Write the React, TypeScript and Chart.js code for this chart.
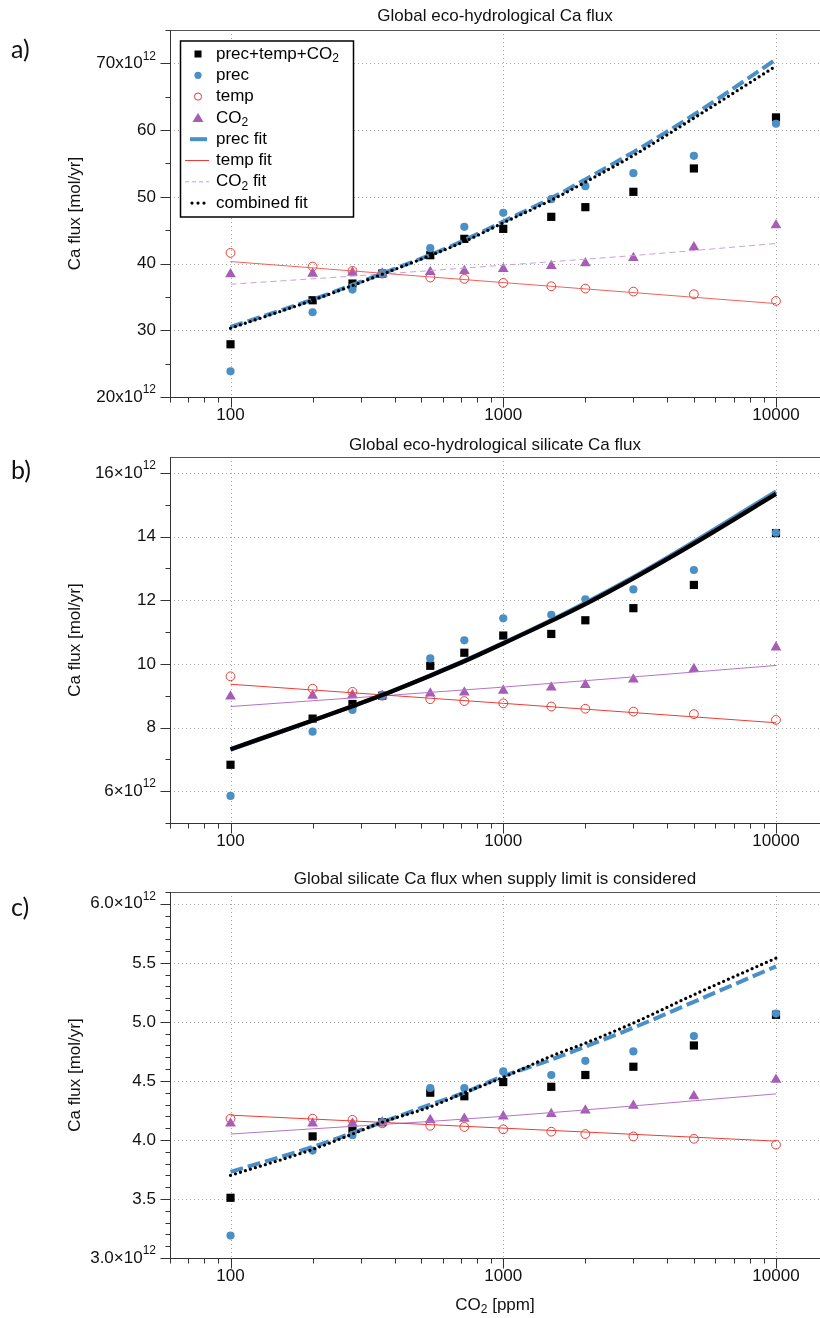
import React, { useEffect, useRef } from "react";
import { Chart, registerables } from "chart.js";

Chart.register(...registerables);

// ---------------- data (Ca flux in units of 10^12 mol/yr) ----------------
const co2 = [100, 200, 280, 360, 540, 720, 1000, 1500, 2000, 3000, 5000, 10000];
const lineEnds = [100, 1000, 10000];
const co2FitAX = [100, 300, 1000, 3000, 10000];
const xRange = [60, 14500];

// panel a
const aAll = [27.9, 34.5, 37.0, 38.5, 41.25, 43.7, 45.2, 47.0, 48.45, 50.75, 54.25, 61.9];
const aPrec = [23.85, 32.7, 36.1, 38.5, 42.3, 45.5, 47.6, 49.65, 51.6, 53.55, 56.15, 60.95];
const aTemp = [41.6, 39.55, 38.9, 38.5, 37.9, 37.7, 37.1, 36.6, 36.25, 35.8, 35.4, 34.4];
const aCO2 = [38.4, 38.5, 38.65, 38.5, 38.75, 38.9, 39.2, 39.65, 40.05, 40.85, 42.45, 45.75];
const aPrecFit = [30.5, 34.6, 36.8, 38.5, 41.3, 43.5, 46.3, 49.8, 52.6, 56.7, 62.3, 70.6];
const aCombFit = [30.3, 34.5, 36.7, 38.4, 41.2, 43.3, 46.1, 49.5, 52.2, 56.2, 61.8, 69.6];
const aTempFit = [40.3, 37.15, 34.0];
const aCO2Fit = [36.9, 38.2, 39.75, 41.2, 43.0];

// panel b
const bAll = [6.83, 8.28, 8.74, 9.0, 9.94, 10.35, 10.89, 10.94, 11.37, 11.75, 12.48, 14.11];
const bPrec = [5.85, 7.87, 8.55, 9.0, 10.17, 10.74, 11.43, 11.54, 12.03, 12.34, 12.95, 14.12];
const bTemp = [9.61, 9.22, 9.12, 9.0, 8.89, 8.83, 8.76, 8.66, 8.59, 8.5, 8.42, 8.24];
const bCO2 = [8.98, 9.0, 9.02, 9.0, 9.07, 9.1, 9.16, 9.26, 9.34, 9.51, 9.84, 10.52];
const bPrecFit = [7.3, 8.22, 8.67, 9.02, 9.64, 10.1, 10.66, 11.38, 11.92, 12.73, 13.84, 15.42];
const bCombFit = [7.32, 8.22, 8.67, 9.02, 9.63, 10.08, 10.64, 11.35, 11.88, 12.69, 13.78, 15.34];
const bTempFit = [9.36, 8.76, 8.15];
const bCO2Fit = [8.66, 9.27, 9.95];

// panel c
const cAll = [3.51, 4.03, 4.09, 4.15, 4.4, 4.37, 4.49, 4.45, 4.55, 4.62, 4.8, 5.06];
const cPrec = [3.19, 3.91, 4.04, 4.15, 4.44, 4.44, 4.58, 4.55, 4.67, 4.75, 4.88, 5.07];
const cTemp = [4.18, 4.18, 4.17, 4.14, 4.12, 4.11, 4.09, 4.07, 4.05, 4.03, 4.01, 3.96];
const cCO2 = [4.14, 4.14, 4.14, 4.15, 4.17, 4.18, 4.2, 4.22, 4.25, 4.29, 4.37, 4.51];
const cPrecFit = [3.73, 3.94, 4.06, 4.15, 4.3, 4.4, 4.54, 4.68, 4.79, 4.95, 5.17, 5.47];
const cCombFit = [3.7, 3.92, 4.05, 4.15, 4.28, 4.4, 4.53, 4.71, 4.82, 4.99, 5.23, 5.54];
const cTempFit = [4.21, 4.1, 3.99];
const cCO2Fit = [4.05, 4.2, 4.39];

// ticks & labels
const xMajor = [100, 1000, 10000];
const xLabels = ["100", "1000", "10000"];
const aYMajor = [20, 30, 40, 50, 60, 70];
const aYLabels = ["20x10^{12}", "30", "40", "50", "60", "70x10^{12}"];
const bYMajor = [6, 8, 10, 12, 14, 16];
const bYLabels = ["6×10^{12}", "8", "10", "12", "14", "16×10^{12}"];
const cYMajor = [3.0, 3.5, 4.0, 4.5, 5.0, 5.5, 6.0];
const cYLabels = ["3.0×10^{12}", "3.5", "4.0", "4.5", "5.0", "5.5", "6.0×10^{12}"];
const titles = [
  "Global eco-hydrological Ca flux",
  "Global eco-hydrological silicate Ca flux",
  "Global silicate Ca flux when supply limit is considered",
];
const panelLetters = ["a)", "b)", "c)"];
const yTitle = "Ca flux [mol/yr]";
const xTitle = "CO_{2} [ppm]";
const legendLabels = [
  "prec+temp+CO_{2}",
  "prec",
  "temp",
  "CO_{2}",
  "prec fit",
  "temp fit",
  "CO_{2} fit",
  "combined fit",
];

// ---------------- styling ----------------
const FONT = '"Liberation Sans", Arial, Helvetica, sans-serif';
const BLUE = "#4a8fc6";
const RED = "#ec3c34";
const RED_LINE_A = "#f0625a";
const PURPLE = "#a65db6";
const PURPLE_DASH = "#cc9ed8";
const PURPLE_LINE = "#b474c4";

const pts = (xs: number[], ys: number[]) => xs.map((x, i) => ({ x, y: ys[i] }));

function parseRich(s: string) {
  const parts: { t: string; k: string }[] = [];
  const re = /(\^\{[^}]*\}|_\{[^}]*\})/g;
  let last = 0;
  let m: RegExpExecArray | null;
  while ((m = re.exec(s))) {
    if (m.index > last) parts.push({ t: s.slice(last, m.index), k: "n" });
    parts.push({ t: m[0].slice(2, -1), k: m[0][0] === "^" ? "sup" : "sub" });
    last = m.index + m[0].length;
  }
  if (last < s.length) parts.push({ t: s.slice(last), k: "n" });
  return parts;
}

function drawRich(ctx: CanvasRenderingContext2D, s: string, x: number, y: number, align: string, size: number, color = "#111") {
  const parts = parseRich(s);
  const small = Math.round(size * 0.72);
  let total = 0;
  const widths = parts.map((p) => {
    ctx.font = `${p.k === "n" ? size : small}px ${FONT}`;
    const w = ctx.measureText(p.t).width;
    total += w;
    return w;
  });
  let cx = align === "left" ? x : align === "right" ? x - total : x - total / 2;
  ctx.textAlign = "left";
  ctx.textBaseline = "middle";
  ctx.fillStyle = color;
  parts.forEach((p, i) => {
    ctx.font = `${p.k === "n" ? size : small}px ${FONT}`;
    const dy = p.k === "sup" ? -size * 0.42 : p.k === "sub" ? size * 0.3 : 0;
    ctx.fillText(p.t, cx, y + dy);
    cx += widths[i];
  });
}

function drawLegend(ctx: CanvasRenderingContext2D) {
  const bx = 180.5, by = 41, bw = 173, bh = 176;
  ctx.save();
  ctx.fillStyle = "#fff";
  ctx.fillRect(bx, by, bw, bh);
  ctx.strokeStyle = "#000";
  ctx.lineWidth = 1.5;
  ctx.setLineDash([]);
  ctx.strokeRect(bx, by, bw, bh);
  const sx = 198, tx = 216, y0 = 54, dy = 21.3;
  legendLabels.forEach((lab, i) => {
    const y = y0 + i * dy;
    ctx.setLineDash([]);
    if (i === 0) {
      ctx.fillStyle = "#000";
      ctx.fillRect(sx - 3.5, y - 3.5, 7, 7);
    } else if (i === 1) {
      ctx.fillStyle = BLUE;
      ctx.beginPath();
      ctx.arc(sx, y, 3.6, 0, Math.PI * 2);
      ctx.fill();
    } else if (i === 2) {
      ctx.strokeStyle = RED;
      ctx.lineWidth = 1;
      ctx.beginPath();
      ctx.arc(sx, y, 3.6, 0, Math.PI * 2);
      ctx.stroke();
    } else if (i === 3) {
      ctx.fillStyle = PURPLE;
      ctx.beginPath();
      ctx.moveTo(sx, y - 5);
      ctx.lineTo(sx + 5.5, y + 4);
      ctx.lineTo(sx - 5.5, y + 4);
      ctx.closePath();
      ctx.fill();
    } else if (i === 4) {
      ctx.strokeStyle = BLUE;
      ctx.lineWidth = 4;
      ctx.beginPath();
      ctx.moveTo(190, y);
      ctx.lineTo(207, y);
      ctx.stroke();
    } else if (i === 5) {
      ctx.strokeStyle = RED;
      ctx.lineWidth = 1;
      ctx.beginPath();
      ctx.moveTo(185, y);
      ctx.lineTo(209, y);
      ctx.stroke();
    } else if (i === 6) {
      ctx.strokeStyle = PURPLE_DASH;
      ctx.lineWidth = 1;
      ctx.setLineDash([4, 3]);
      ctx.beginPath();
      ctx.moveTo(185, y);
      ctx.lineTo(209, y);
      ctx.stroke();
      ctx.setLineDash([]);
    } else {
      ctx.fillStyle = "#000";
      [192, 198, 204].forEach((px) => {
        ctx.beginPath();
        ctx.arc(px, y, 1.6, 0, Math.PI * 2);
        ctx.fill();
      });
    }
    drawRich(ctx, lab, tx, y, "left", 17, "#000");
  });
  ctx.restore();
}

type PanelCfg = {
  idx: number;
  top: number;
  h: number;
  padTop: number;
  xAxisH: number;
  yMin: number;
  yMax: number;
  yMajor: number[];
  yLabels: string[];
  yMinorStep: number;
  titleY: number;
  letterY: number;
  datasets: any[];
  legend?: boolean;
  xTitleY?: number;
};

function framePlugin(cfg: PanelCfg) {
  return {
    id: "frame" + cfg.idx,
    beforeDatasetsDraw(chart: any) {
      const ctx = chart.ctx as CanvasRenderingContext2D;
      const { left, right, top, bottom } = chart.chartArea;
      const xs = chart.scales.x, ys = chart.scales.y;
      ctx.save();
      ctx.strokeStyle = "#a8a8a8";
      ctx.lineWidth = 1;
      ctx.setLineDash([1, 3]);
      xMajor.forEach((v) => {
        const px = Math.round(xs.getPixelForValue(v)) + 0.5;
        ctx.beginPath();
        ctx.moveTo(px, top);
        ctx.lineTo(px, bottom);
        ctx.stroke();
      });
      cfg.yMajor.forEach((v) => {
        const py = Math.round(ys.getPixelForValue(v)) + 0.5;
        ctx.beginPath();
        ctx.moveTo(left, py);
        ctx.lineTo(right, py);
        ctx.stroke();
      });
      ctx.restore();
    },
    afterDatasetsDraw(chart: any) {
      const ctx = chart.ctx as CanvasRenderingContext2D;
      const { left, right, top, bottom } = chart.chartArea;
      const xs = chart.scales.x, ys = chart.scales.y;
      ctx.save();
      ctx.setLineDash([]);
      ctx.lineWidth = 1;
      // frame lines
      ctx.strokeStyle = "#555";
      ctx.beginPath();
      ctx.moveTo(left, Math.round(top) + 0.5);
      ctx.lineTo(right, Math.round(top) + 0.5);
      ctx.stroke();
      ctx.strokeStyle = "#333";
      const lx = Math.round(left) + 0.5;
      const by = Math.round(bottom) + 0.5;
      ctx.beginPath();
      ctx.moveTo(lx, top);
      ctx.lineTo(lx, by);
      ctx.lineTo(right, by);
      ctx.stroke();
      // x ticks
      for (const d of [10, 100, 1000, 10000]) {
        for (let k = 1; k <= 9; k++) {
          const v = k * d;
          if (v < xs.min - 1e-9 || v > xs.max) continue;
          const px = Math.round(xs.getPixelForValue(v)) + 0.5;
          const len = k === 1 ? 10 : 5;
          ctx.beginPath();
          ctx.moveTo(px, by);
          ctx.lineTo(px, by + len);
          ctx.stroke();
        }
      }
      // y ticks
      const n = Math.round((cfg.yMax - cfg.yMin) / cfg.yMinorStep);
      for (let i = 0; i <= n; i++) {
        const v = cfg.yMin + i * cfg.yMinorStep;
        if (v > cfg.yMax + 1e-9) continue;
        const major = cfg.yMajor.some((m) => Math.abs(m - v) < 1e-6);
        const py = Math.round(ys.getPixelForValue(v)) + 0.5;
        const len = major ? 10 : 5;
        ctx.beginPath();
        ctx.moveTo(lx - len, py);
        ctx.lineTo(lx, py);
        ctx.stroke();
      }
      // x labels
      xMajor.forEach((v, i) => {
        drawRich(ctx, xLabels[i], xs.getPixelForValue(v), bottom + 18, "center", 17);
      });
      // y labels
      cfg.yMajor.forEach((v, i) => {
        drawRich(ctx, cfg.yLabels[i], left - 14, ys.getPixelForValue(v), "right", 17);
      });
      // title
      drawRich(ctx, titles[cfg.idx], (left + right) / 2, cfg.titleY, "center", 17);
      // y title
      ctx.save();
      ctx.translate(75, (top + bottom) / 2);
      ctx.rotate(-Math.PI / 2);
      drawRich(ctx, yTitle, 0, 0, "center", 17);
      ctx.restore();
      // panel letter
      ctx.font = `25px Lato, "Open Sans", sans-serif`;
      ctx.fillStyle = "#111";
      ctx.textAlign = "left";
      ctx.textBaseline = "middle";
      ctx.fillText(panelLetters[cfg.idx], 11, cfg.letterY);
      if (cfg.xTitleY !== undefined) {
        drawRich(ctx, xTitle, (left + right) / 2, cfg.xTitleY, "center", 17);
      }
      if (cfg.legend) drawLegend(ctx);
      ctx.restore();
    },
  };
}

function pointSets(all: number[], prec: number[], temp: number[], c: number[]) {
  return [
    {
      data: pts(co2, prec), pointStyle: "circle", pointRadius: 4.1, backgroundColor: BLUE,
      borderColor: BLUE, borderWidth: 0, showLine: false,
    },
    {
      data: pts(co2, c), pointStyle: "triangle", pointRadius: 6.2, backgroundColor: PURPLE,
      borderColor: PURPLE, borderWidth: 0, showLine: false,
    },
    {
      data: pts(co2, temp), pointStyle: "circle", pointRadius: 4.4, backgroundColor: "rgba(0,0,0,0)",
      borderColor: RED, borderWidth: 1, showLine: false,
    },
    {
      data: pts(co2, all), pointStyle: "rect", pointRadius: 5.8, backgroundColor: "#000",
      borderColor: "#000", borderWidth: 0, showLine: false,
    },
  ];
}

const lineBase = { showLine: true, pointRadius: 0, fill: false, tension: 0, cubicInterpolationMode: "monotone" };

const panels: PanelCfg[] = [
  {
    idx: 0, top: 0, h: 430, padTop: 30, xAxisH: 33, yMin: 20, yMax: 75, yMajor: aYMajor, yLabels: aYLabels,
    yMinorStep: 5, titleY: 16, letterY: 50, legend: true,
    datasets: [
      { ...lineBase, data: pts(co2, aCombFit), borderColor: "#000", borderWidth: 3.3, borderDash: [0, 5.2], borderCapStyle: "round" },
      { ...lineBase, data: pts(co2, aPrecFit), borderColor: BLUE, borderWidth: 4, borderDash: [13, 5] },
      { ...lineBase, data: pts(lineEnds, aTempFit), borderColor: RED_LINE_A, borderWidth: 1 },
      { ...lineBase, data: pts(co2FitAX, aCO2Fit), borderColor: PURPLE_DASH, borderWidth: 1, borderDash: [6, 4] },
      ...pointSets(aAll, aPrec, aTemp, aCO2),
    ],
  },
  {
    idx: 1, top: 430, h: 430, padTop: 27, xAxisH: 37, yMin: 5, yMax: 16.5, yMajor: bYMajor, yLabels: bYLabels,
    yMinorStep: 1, titleY: 15, letterY: 41,
    datasets: [
      { ...lineBase, data: pts(co2, bCombFit), borderColor: "#000", borderWidth: 4.3 },
      { ...lineBase, data: pts(co2, bPrecFit), borderColor: BLUE, borderWidth: 4 },
      { ...lineBase, data: pts(lineEnds, bTempFit), borderColor: RED, borderWidth: 1 },
      { ...lineBase, data: pts(lineEnds, bCO2Fit), borderColor: PURPLE_LINE, borderWidth: 1 },
      ...pointSets(bAll, bPrec, bTemp, bCO2),
    ],
  },
  {
    idx: 2, top: 860, h: 458, padTop: 32, xAxisH: 60, yMin: 3.0, yMax: 6.1, yMajor: cYMajor, yLabels: cYLabels,
    yMinorStep: 0.1, titleY: 19, letterY: 48, xTitleY: 445,
    datasets: [
      { ...lineBase, data: pts(co2, cCombFit), borderColor: "#000", borderWidth: 3.3, borderDash: [0, 5.2], borderCapStyle: "round" },
      { ...lineBase, data: pts(co2, cPrecFit), borderColor: BLUE, borderWidth: 4, borderDash: [13, 5] },
      { ...lineBase, data: pts(lineEnds, cTempFit), borderColor: RED, borderWidth: 1 },
      { ...lineBase, data: pts(lineEnds, cCO2Fit), borderColor: PURPLE_LINE, borderWidth: 1 },
      ...pointSets(cAll, cPrec, cTemp, cCO2),
    ],
  },
];

function Panel({ cfg }: { cfg: PanelCfg }) {
  const ref = useRef<HTMLCanvasElement>(null);
  useEffect(() => {
    if (!ref.current) return;
    const chart = new Chart(ref.current, {
      type: "scatter",
      data: { datasets: cfg.datasets },
      options: {
        responsive: false,
        animation: false,
        devicePixelRatio: 1,
        layout: { autoPadding: false, padding: { top: cfg.padTop, left: 0, right: 0, bottom: 0 } },
        plugins: { legend: { display: false }, tooltip: { enabled: false }, title: { display: false } },
        scales: {
          x: {
            type: "logarithmic",
            min: xRange[0],
            max: xRange[1],
            grid: { display: false },
            border: { display: false },
            ticks: { display: false },
            afterFit: (s: any) => {
              s.height = cfg.xAxisH;
            },
          },
          y: {
            type: "linear",
            min: cfg.yMin,
            max: cfg.yMax,
            grid: { display: false },
            border: { display: false },
            ticks: { display: false },
            afterFit: (s: any) => {
              s.width = 170;
            },
          },
        },
      } as any,
      plugins: [framePlugin(cfg)],
    });
    return () => chart.destroy();
  }, [cfg]);
  return (
    <canvas
      ref={ref}
      width={820}
      height={cfg.h}
      style={{ position: "absolute", left: 0, top: cfg.top, width: 820, height: cfg.h, display: "block" }}
    />
  );
}

export default function App() {
  return (
    <div style={{ position: "absolute", left: 0, top: 0, width: 820, height: 1318, background: "#fff" }}>
      {panels.map((p) => (
        <Panel key={p.idx} cfg={p} />
      ))}
    </div>
  );
}
